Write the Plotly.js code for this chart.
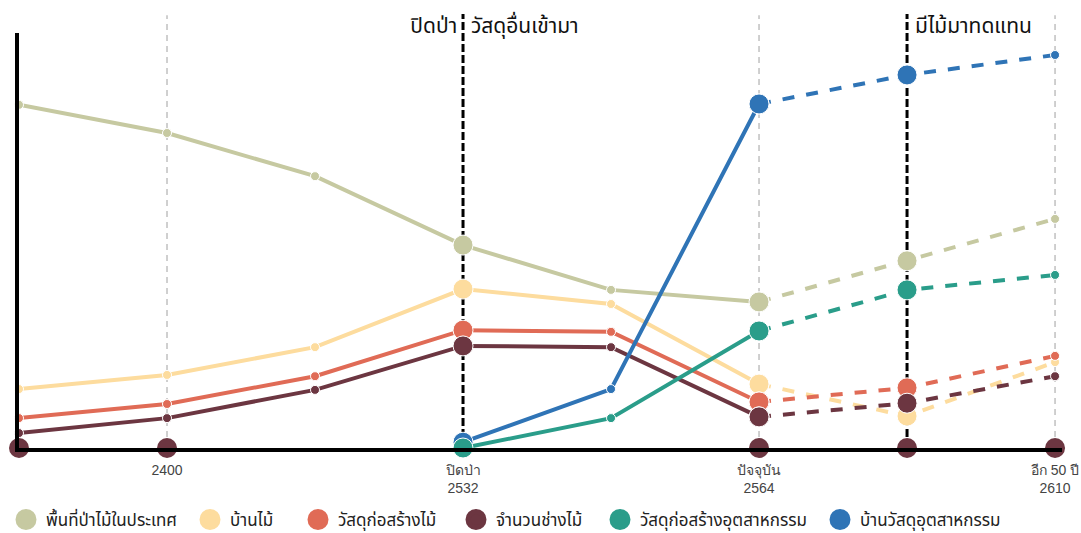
<!DOCTYPE html>
<html>
<head>
<meta charset="utf-8">
<script src="https://cdn.plot.ly/plotly-3.0.1.min.js"></script>
<style>html,body{margin:0;padding:0;background:#fff;}#chart{width:1081px;height:533px;}</style>
</head>
<body>
<div id="chart"></div>
<script>
// x positions are timeline steps (0..7)
const steps = [0, 1, 2, 3, 4, 5, 6, 7];
const tickSteps = [1, 3, 5, 7];
const tickLabels = ["2400", "ปิดป่า<br>2532", "ปัจจุบัน<br>2564", "อีก 50 ปี<br>2610"];
const seriesNames = ["พื้นที่ป่าไม้ในประเทศ", "บ้านไม้", "วัสดุก่อสร้างไม้", "จำนวนช่างไม้", "วัสดุก่อสร้างอุตสาหกรรม", "บ้านวัสดุอุตสาหกรรม"];
const seriesColors = ["#c6c9a1", "#fddc9e", "#e06b56", "#6c3641", "#2a9d8a", "#2f74b6"];

// values (relative index, 0-100)
const forestArea   = [82.7, 75.9, 65.5, 48.9, 38.1, 35.2, 45.1, 55.2];
const woodHouse    = [14.2, 17.6, 24.3, 38.3, 34.7, 15.4, 7.7, 20.7];
const woodMaterial = [7.2, 10.6, 17.3, 28.4, 28.0, 11.1, 14.5, 22.2];
const carpenters   = [3.6, 7.2, 14.0, 24.6, 24.3, 7.5, 10.8, 17.3];
const indMaterial  = [null, null, null, 0.0, 7.2, 28.2, 38.1, 41.7];
const indHouse     = [null, null, null, 1.4, 14.2, 82.9, 89.9, 94.7];
const seriesValues = [forestArea, woodHouse, woodMaterial, carpenters, indMaterial, indHouse];
const drawOrder    = [0, 1, 2, 3, 5, 4];

// timeline dots on the baseline
const timelineSteps = [0, 1, 5, 6, 7];
const timelineValues = [0, 0, 0, 0, 0];

// event markers
const eventSteps = [3, 6];
const guideSteps = [1, 5, 7];
const currentStep = 5;
const keySteps = [3, 5, 6];

// legend entry left edges (container fraction)
const legendX = [6, 190, 298, 456, 600, 820].map(v => v / 1081);

const traces = [];
drawOrder.forEach(function(si) {
  const vals = seriesValues[si];
  const color = seriesColors[si];
  const sizes = steps.map(s => keySteps.indexOf(s) >= 0 ? 20 : 9);
  const xs1 = [], ys1 = [], ss1 = [];
  const xs2 = [], ys2 = [], ss2 = [];
  steps.forEach(function(s, i) {
    if (vals[i] === null) return;
    if (s <= currentStep) { xs1.push(s); ys1.push(vals[i]); ss1.push(sizes[i]); }
    if (s >= currentStep) { xs2.push(s); ys2.push(vals[i]); ss2.push(sizes[i]); }
  });
  traces.push({
    x: xs2, y: ys2, type: 'scatter', mode: 'lines+markers', showlegend: false, cliponaxis: false,
    line: {color: color, width: 4, dash: 'dash'}, marker: {color: color, size: ss2, opacity: 1}, hoverinfo: 'skip'
  });
  traces.push({
    x: xs1, y: ys1, type: 'scatter', mode: 'lines+markers', showlegend: false, cliponaxis: false,
    line: {color: color, width: 4}, marker: {color: color, size: ss1, opacity: 1}, hoverinfo: 'skip'
  });
});
traces.push({
  x: timelineSteps, y: timelineValues, type: 'scatter', mode: 'markers', showlegend: false, cliponaxis: false,
  marker: {color: seriesColors[3], size: 20, opacity: 1}, hoverinfo: 'skip'
});

const thaiFamily = 'Noto Sans Thai, Tahoma, Liberation Sans, sans-serif';
const layout = {
  width: 1081, height: 533,
  margin: {l: 19, r: 19, t: 33, b: 85},
  paper_bgcolor: '#fff', plot_bgcolor: '#fff',
  showlegend: true,
  font: {family: 'Liberation Sans, Arial, sans-serif'},
  xaxis: {range: [0, 7.047], showgrid: false, zeroline: false, showline: true, linecolor: '#000', linewidth: 4,
    tickvals: tickSteps, ticktext: tickLabels, ticks: '', ticklabelstandoff: 6, automargin: false,
    tickfont: {size: 14, color: '#444'}, fixedrange: true},
  yaxis: {range: [0, 100], showgrid: false, zeroline: false, showline: true, linecolor: '#000', linewidth: 4,
    showticklabels: false, ticks: '', automargin: false, fixedrange: true}
};

// legend entries, one legend box per entry
seriesNames.forEach(function(n, i) {
  const lid = i === 0 ? 'legend' : 'legend' + (i + 1);
  traces.push({
    x: [null], y: [null], type: 'scatter', mode: 'markers', name: n, showlegend: true, legend: lid,
    marker: {color: seriesColors[i], size: 16, opacity: 1, line: {color: seriesColors[i], width: 5}}
  });
  layout[lid] = {orientation: 'h', xref: 'container', yref: 'container', x: legendX[i], xanchor: 'left',
    y: 0.0244, yanchor: 'middle', bgcolor: 'rgba(0,0,0,0)',
    font: {size: 17, color: '#222', family: thaiFamily}, itemclick: false};
});

const shapes = [];
guideSteps.forEach(function(s) {
  shapes.push({type: 'line', xref: 'x', yref: 'paper', x0: s, x1: s, y0: 0, y1: 1.043,
    line: {color: '#c0c0c0', width: 1.5, dash: '6px,5px'}, layer: 'below'});
});
eventSteps.forEach(function(s) {
  shapes.push({type: 'line', xref: 'x', yref: 'paper', x0: s, x1: s, y0: 0, y1: 1.046,
    line: {color: '#000', width: 3, dash: '8px,3px'}, layer: 'below'});
});
layout.shapes = shapes;

const annFont = {family: thaiFamily, size: 21, color: '#111'};
layout.annotations = [
  {x: eventSteps[0], y: 1.0145, xref: 'x', yref: 'paper', text: 'ปิดป่า', showarrow: false, xanchor: 'right', yanchor: 'middle', xshift: -4, font: annFont},
  {x: eventSteps[0], y: 1.0145, xref: 'x', yref: 'paper', text: 'วัสดุอื่นเข้ามา', showarrow: false, xanchor: 'left', yanchor: 'middle', xshift: 6, font: annFont},
  {x: eventSteps[1], y: 1.0145, xref: 'x', yref: 'paper', text: 'มีไม้มาทดแทน', showarrow: false, xanchor: 'left', yanchor: 'middle', xshift: 6, font: annFont}
];

Plotly.newPlot('chart', traces, layout, {displayModeBar: false, staticPlot: true});
</script>
</body>
</html>
